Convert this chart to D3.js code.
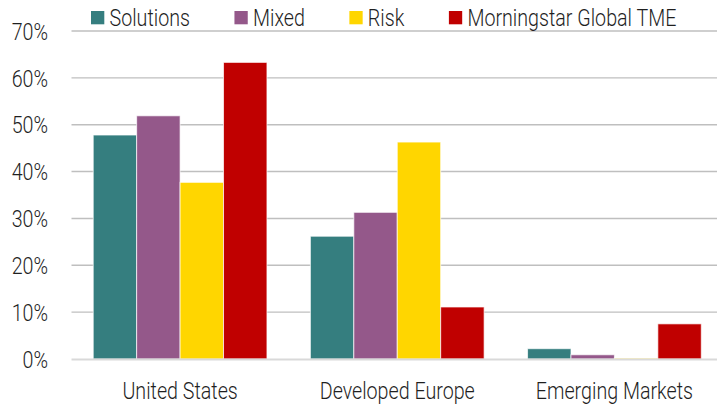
<!DOCTYPE html>
<html>
<head>
<meta charset="utf-8">
<script src="https://cdn.jsdelivr.net/npm/d3@7"></script>
<style>
  html, body { margin: 0; padding: 0; background: #fff; }
  svg { display: block; }
  text { font-family: Roboto, "Liberation Sans", sans-serif; font-weight: 300; fill: #1f1f1f; }
</style>
</head>
<body>
<svg id="chart" width="717" height="405"></svg>
<script>
// Regions on the x axis
const categories = ["United States", "Developed Europe", "Emerging Markets"];
// Series names, in legend / bar order
const seriesNames = ["Solutions", "Mixed", "Risk", "Morningstar Global TME"];
// Share of each series per region (fraction)
const solutions = [0.478, 0.262, 0.022];
const mixed     = [0.519, 0.313, 0.009];
const risk      = [0.377, 0.463, 0.002];
const globalTME = [0.633, 0.111, 0.075];
const seriesValues = [solutions, mixed, risk, globalTME];
const seriesColors = ["#357e7f", "#94588a", "#ffd600", "#c00000"];
// Y axis ticks
const yTicks = [0, 0.1, 0.2, 0.3, 0.4, 0.5, 0.6, 0.7];

const svg = d3.select("#chart");
const fontSize = 24;

// Horizontal squeeze so the face reads as a condensed type:
// the longest legend entry should span about 209px.
const probe = svg.append("text").style("font-size", fontSize + "px").text(seriesNames[3]);
const squeeze = 209 / probe.node().getComputedTextLength();
probe.remove();

// Place a condensed label: translate to (x, y), then squeeze horizontally.
function place(sel, fx, fy) {
  sel.attr("transform", (d, i) => `translate(${fx(d, i)},${fy(d, i)}) scale(${squeeze},1)`);
}

const plot = { left: 71.5, right: 723, top: 31, bottom: 359 };

const y = d3.scaleLinear().domain([0, 0.7]).range([plot.bottom, plot.top]);
const x0 = d3.scaleBand().domain(categories).range([plot.left, plot.right]).padding(0);
const x1 = d3.scaleBand().domain(seriesNames)
  .range([x0.bandwidth() * 0.1, x0.bandwidth() * 0.9]).padding(0);

// Gridlines
svg.append("g")
  .selectAll("line")
  .data(yTicks.filter(t => t > 0))
  .join("line")
  .attr("x1", plot.left).attr("x2", 717)
  .attr("y1", d => y(d)).attr("y2", d => y(d))
  .attr("stroke", "#bfbfbf").attr("stroke-width", 1.4);

// Y tick labels
svg.append("g")
  .selectAll("text")
  .data(yTicks)
  .join("text")
  .call(place, () => 48, d => y(d))
  .attr("dy", "0.36em")
  .attr("text-anchor", "end")
  .style("font-size", fontSize + "px")
  .text(d => d3.format(".0%")(d));

// Bars
const rows = [];
categories.forEach((c, ci) => {
  seriesNames.forEach((s, si) => {
    rows.push({ cat: c, series: s, value: seriesValues[si][ci], color: seriesColors[si] });
  });
});

svg.append("g")
  .selectAll("rect")
  .data(rows)
  .join("rect")
  .attr("x", d => x0(d.cat) + x1(d.series))
  .attr("width", x1.bandwidth())
  .attr("y", d => y(d.value))
  .attr("height", d => y(0) - y(d.value))
  .attr("fill", d => d.color)
  .attr("stroke", "#ffffff")
  .attr("stroke-opacity", 0.7)
  .attr("stroke-width", 1);

// Baseline
svg.append("line")
  .attr("x1", plot.left).attr("x2", 717)
  .attr("y1", y(0) + 0.5).attr("y2", y(0) + 0.5)
  .attr("stroke", "#d9d9d9").attr("stroke-width", 2);

// Category labels
svg.append("g")
  .selectAll("text")
  .data(categories)
  .join("text")
  .call(place, d => x0(d) + x0.bandwidth() / 2, () => 399)
  .attr("text-anchor", "middle")
  .style("font-size", fontSize + "px")
  .text(d => d);

// Legend
const legend = svg.append("g");
let lx = 91;
seriesNames.forEach((name, i) => {
  legend.append("rect")
    .attr("x", lx).attr("y", 11)
    .attr("width", 13.3).attr("height", 13.3)
    .attr("fill", seriesColors[i]);
  const t = legend.append("text")
    .style("font-size", fontSize + "px")
    .text(name)
    .call(place, () => lx + 18.5, () => 26);
  lx += 18.5 + t.node().getComputedTextLength() * squeeze + 44.5;
});
</script>
</body>
</html>
